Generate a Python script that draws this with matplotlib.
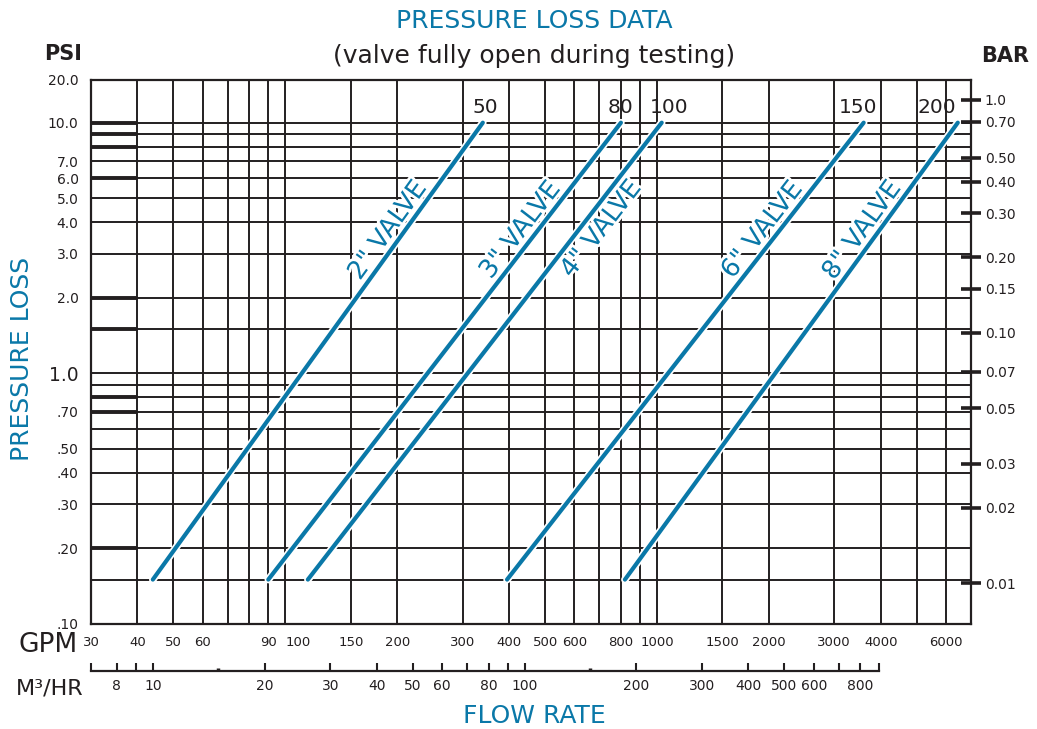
import numpy as np
import matplotlib.pyplot as plt
import matplotlib.patheffects as pe
from matplotlib.ticker import FixedLocator, FixedFormatter, NullLocator

# Valve curves: flow (GPM) at the low and high end of each printed line
valve_names = ['2" VALVE', '3" VALVE', '4" VALVE', '6" VALVE', '8" VALVE']
valve_tags = ['50', '80', '100', '150', '200']
flow_low = [44, 90, 115, 395, 820]
flow_high = [340, 800, 1030, 3600, 6450]
psi_low = [0.15, 0.15, 0.15, 0.15, 0.15]
psi_high = [10.0, 10.0, 10.0, 10.0, 10.0]

# Axis ticks
gpm_ticks = [30, 40, 50, 60, 90, 100, 150, 200, 300, 400, 500, 600, 800,
             1000, 1500, 2000, 3000, 4000, 6000]
gpm_grid = [40, 50, 60, 70, 80, 90, 100, 150, 200, 300, 400, 500, 600, 700,
            800, 900, 1000, 1500, 2000, 3000, 4000, 5000, 6000]
psi_ticks = [0.1, 0.2, 0.3, 0.4, 0.5, 0.7, 1.0, 2.0, 3.0, 4.0, 5.0, 6.0, 7.0, 10.0, 20.0]
psi_labels = ['.10', '.20', '.30', '.40', '.50', '.70', '1.0', '2.0', '3.0', '4.0',
              '5.0', '6.0', '7.0', '10.0', '20.0']
psi_grid = [0.15, 0.2, 0.3, 0.4, 0.5, 0.6, 0.7, 0.8, 0.9, 1.0, 1.5, 2, 3, 4, 5, 6, 7, 8, 9, 10]
psi_bold = [0.2, 0.7, 0.8, 1.5, 2, 6, 8, 9, 10]
bar_ticks = [1.0, 0.70, 0.50, 0.40, 0.30, 0.20, 0.15, 0.10, 0.07, 0.05, 0.03, 0.02, 0.01]
bar_labels = ['1.0', '0.70', '0.50', '0.40', '0.30', '0.20', '0.15', '0.10', '0.07',
              '0.05', '0.03', '0.02', '0.01']
m3_ticks = [8, 9, 10, 20, 30, 40, 50, 60, 70, 80, 90, 100, 200, 300, 400, 500, 600, 700, 800, 900]
m3_labels = ['8', '', '10', '20', '30', '40', '50', '60', '', '80', '', '100', '200', '300',
             '400', '500', '600', '', '800', '']
m3_dots = [15, 150]

PSI_PER_BAR = 14.5
GPM_PER_M3H = 4.403
X_MIN, X_MAX = 30, 7000
Y_MIN, Y_MAX = 0.1, 20
TOP_SQUEEZE = 0.566  # the 10-20 psi band is drawn compressed on the chart

BLUE = '#0a78a8'
INK = '#231f20'


def psi_fwd(y):
    ly = np.log10(np.clip(np.asarray(y, dtype=float), 1e-12, None))
    return np.where(ly <= 1, ly, 1 + TOP_SQUEEZE * (ly - 1))


def psi_inv(v):
    v = np.asarray(v, dtype=float)
    return np.where(v <= 1, 10.0 ** v, 10.0 ** (1 + (v - 1) / TOP_SQUEEZE))


fig = plt.figure(figsize=(10.37, 7.29), dpi=100)
W, H = 1037, 729
ax = fig.add_axes([91 / W, (H - 623.7) / H, 880 / W, 543.7 / H])
ax.set_xscale('log')
ax.set_yscale('function', functions=(psi_fwd, psi_inv))
ax.set_xlim(X_MIN, X_MAX)
ax.set_ylim(Y_MIN, Y_MAX)

# grid
ax.vlines(gpm_grid, Y_MIN, Y_MAX, color=INK, lw=1.4, zorder=1)
ax.hlines(psi_grid, X_MIN, X_MAX, color=INK, lw=1.4, zorder=1)
ax.hlines(psi_bold, X_MIN, 40, color=INK, lw=2.8, zorder=1)
for s in ax.spines.values():
    s.set_linewidth(1.6)
    s.set_color(INK)

# ticks
ax.set_xticks(gpm_ticks, [str(t) for t in gpm_ticks])
ax.xaxis.set_minor_locator(NullLocator())
ax.set_yticks(psi_ticks, psi_labels)
ax.yaxis.set_minor_locator(NullLocator())
ax.tick_params(axis='x', length=0, pad=9, labelsize=9.5, labelcolor=INK)
ax.tick_params(axis='y', length=0, pad=9, labelsize=10, labelcolor=INK)
for lab in ax.get_xticklabels():
    if lab.get_text() == '100':
        lab.set_horizontalalignment('left')
for lab in ax.get_yticklabels():
    if lab.get_text() == '1.0':
        lab.set_fontsize(13.5)

# valve lines
for i in range(len(valve_names)):
    ax.plot([flow_low[i], flow_high[i]], [psi_low[i], psi_high[i]], color=BLUE, lw=3,
            solid_capstyle='round', zorder=3,
            path_effects=[pe.Stroke(linewidth=5.5, foreground='white'), pe.Normal()])

fig.canvas.draw()
tag_dx = [1.5, 0, 5, -4, -15]
name_side = [1, 1, -1, 1, 1]      # 4" name sits below its line
for i in range(len(valve_names)):
    p0 = ax.transData.transform((flow_low[i], psi_low[i]))
    p1 = ax.transData.transform((flow_high[i], psi_high[i]))
    ang = np.degrees(np.arctan2(p1[1] - p0[1], p1[0] - p0[0]))
    at_psi = 3.45 if name_side[i] > 0 else 4.15
    gap = 10 if name_side[i] > 0 else 12.5
    t = (np.log10(at_psi) - np.log10(psi_low[i])) / (np.log10(psi_high[i]) - np.log10(psi_low[i]))
    fx = 10 ** (np.log10(flow_low[i]) + t * (np.log10(flow_high[i]) - np.log10(flow_low[i])))
    a = np.radians(ang)
    off = (-np.sin(a) * gap * name_side[i], np.cos(a) * gap * name_side[i])
    ax.annotate(valve_names[i], (fx, at_psi), xytext=off,
                textcoords='offset points', rotation=ang, rotation_mode='anchor',
                ha='center', va='center', fontsize=18.5, color=BLUE, zorder=4,
                path_effects=[pe.withStroke(linewidth=4, foreground='white')])
    ax.annotate(valve_tags[i], (flow_high[i], psi_high[i]), xytext=(tag_dx[i], 11),
                textcoords='offset points', ha='center', va='center',
                fontsize=14.5, color=INK, zorder=4)

# BAR scale on the right
axb = ax.twinx()
axb.set_yscale('function', functions=(lambda b: psi_fwd(np.asarray(b) * PSI_PER_BAR),
                                      lambda v: psi_inv(v) / PSI_PER_BAR))
axb.set_ylim(Y_MIN / PSI_PER_BAR, Y_MAX / PSI_PER_BAR)
axb.yaxis.set_major_locator(FixedLocator(bar_ticks))
axb.yaxis.set_major_formatter(FixedFormatter(bar_labels))
axb.yaxis.set_minor_locator(NullLocator())
axb.tick_params(axis='y', direction='inout', length=14, width=2.6, color=INK,
                pad=3, labelsize=10, labelcolor=INK)
for s in axb.spines.values():
    s.set_visible(False)

# cubic metres per hour scale under the GPM labels
axm = fig.add_axes([91 / W, (H - 671) / H, 880 / W, 0.0001])
axm.set_xscale('log')
axm.set_xlim(X_MIN / GPM_PER_M3H, X_MAX / GPM_PER_M3H)
axm.patch.set_visible(False)
for k in ['top', 'left', 'right']:
    axm.spines[k].set_visible(False)
axm.spines['bottom'].set_bounds(X_MIN / GPM_PER_M3H, m3_ticks[-1])
axm.spines['bottom'].set_linewidth(1.6)
axm.spines['bottom'].set_color(INK)
axm.set_yticks([])
axm.xaxis.set_major_locator(FixedLocator([X_MIN / GPM_PER_M3H] + m3_ticks))
axm.xaxis.set_major_formatter(FixedFormatter([''] + m3_labels))
axm.xaxis.set_minor_locator(FixedLocator(m3_dots))
axm.xaxis.set_minor_formatter(FixedFormatter(['', '']))
axm.tick_params(axis='x', which='major', direction='in', length=6, width=1.5, color=INK,
                pad=6, labelsize=10, labelcolor=INK)
axm.tick_params(axis='x', which='minor', direction='in', length=2, width=2.5, color=INK)

# titles and axis names
fig.text(534 / W, 1 - 21 / H, 'PRESSURE LOSS DATA', ha='center', va='center',
         fontsize=18, color=BLUE)
fig.text(534 / W, 1 - 56 / H, '(valve fully open during testing)', ha='center', va='center',
         fontsize=18, color=INK)
fig.text(63 / W, 1 - 54 / H, 'PSI', ha='center', va='center', fontsize=15,
         fontweight='bold', color=INK)
fig.text(1005 / W, 1 - 56 / H, 'BAR', ha='center', va='center', fontsize=15,
         fontweight='bold', color=INK)
fig.text(22 / W, 1 - 359 / H, 'PRESSURE LOSS', ha='center', va='center', rotation=90,
         fontsize=18, color=BLUE)
fig.text(534 / W, 1 - 716 / H, 'FLOW RATE', ha='center', va='center', fontsize=18, color=BLUE)
fig.text(48 / W, 1 - 645 / H, 'GPM', ha='center', va='center', fontsize=19, color=INK)
fig.text(50 / W, 1 - 688 / H, 'M³/HR', ha='center', va='center', fontsize=16, color=INK)

fig.savefig('out.png', dpi=100)
